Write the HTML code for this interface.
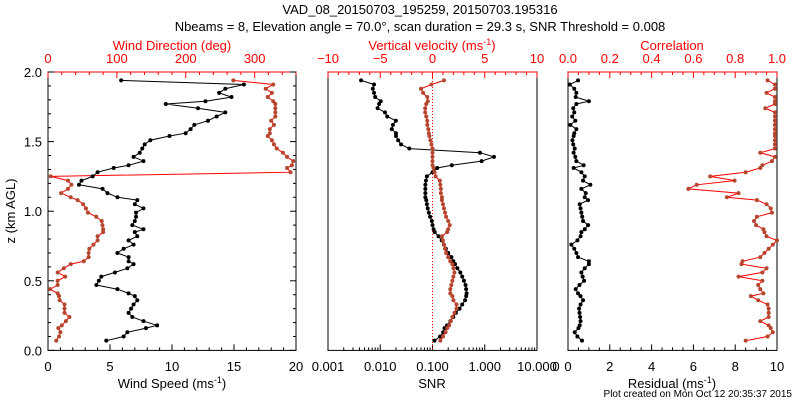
<!DOCTYPE html>
<html><head><meta charset="utf-8"><style>
body{margin:0;background:#fff}
svg{display:block;font-family:"Liberation Sans",sans-serif}
</style></head><body>
<svg id="c" width="800" height="400" viewBox="0 0 800 400"></svg>
<script>
const heights=[0.07,0.10,0.13,0.16,0.18,0.21,0.24,0.27,0.30,0.33,0.36,0.39,0.41,0.44,0.47,0.50,0.53,0.56,0.59,0.62,0.64,0.67,0.70,0.73,0.76,0.79,0.82,0.85,0.87,0.90,0.93,0.96,0.99,1.02,1.05,1.08,1.10,1.13,1.16,1.19,1.22,1.25,1.28,1.31,1.33,1.36,1.39,1.42,1.45,1.48,1.51,1.54,1.56,1.59,1.62,1.65,1.68,1.71,1.74,1.77,1.79,1.82,1.85,1.88,1.91,1.94];
const windSpeed=[4.7,6.1,6.4,7.9,8.8,7.7,6.8,6.5,6.7,6.9,7.2,7.0,6.5,5.6,3.9,4.1,4.3,5.4,6.4,6.9,6.5,6.5,5.6,6.1,6.9,6.5,7.2,7.0,7.7,6.8,7.0,7.1,7.1,7.7,7.0,7.2,5.6,4.8,4.4,2.5,2.7,3.6,4.0,5.3,6.5,7.7,6.9,7.4,7.6,7.8,8.25,9.8,11.1,11.5,11.8,12.9,13.6,14.3,12.1,9.5,12.7,14.8,13.8,14.3,15.8,5.9];
const windDir=[12,16,18,15,20,26,31,24,24,24,17,16,14,3,14,14,25,14,23,33,52,59,59,60,66,72,72,80,80,79,78,70,58,55,51,43,33,19,29,34,29,4,352,347,354,356,347,341,332,328,325,319,322,322,328,324,330,330,330,330,327,319,325,316,327,269];
const snr=[0.109,0.14,0.16,0.17,0.19,0.22,0.25,0.28,0.33,0.37,0.42,0.44,0.45,0.44,0.43,0.40,0.37,0.34,0.30,0.27,0.25,0.23,0.20,0.18,0.165,0.15,0.13,0.11,0.105,0.10,0.097,0.09,0.085,0.081,0.078,0.076,0.073,0.073,0.073,0.073,0.075,0.078,0.10,0.123,0.234,0.87,1.50,0.81,0.036,0.025,0.022,0.020,0.020,0.0166,0.0175,0.0199,0.0136,0.0123,0.0089,0.0095,0.0102,0.008,0.0076,0.0072,0.0076,0.0043];
const vertVel=[0.75,1.0,1.25,1.4,1.6,1.75,1.9,2.1,2.3,2.3,2.0,1.9,1.7,1.7,1.8,1.9,2.0,2.1,2.0,1.9,1.7,1.5,1.3,1.2,1.1,1.0,0.9,1.4,1.5,1.65,1.5,1.3,1.2,1.1,1.0,0.9,0.9,0.8,0.8,0.75,0.7,0.3,0.2,0.1,0.0,0.0,0.0,0.0,0.0,-0.1,-0.2,-0.3,-0.35,-0.4,-0.5,-0.5,-0.6,-0.7,-0.7,-0.6,-0.45,-0.5,-0.9,-1.1,-0.1,1.1];
const residual=[0.67,0.45,0.32,0.5,0.56,0.6,0.58,0.55,0.53,0.6,0.72,0.6,0.48,0.37,0.55,0.77,0.7,0.64,0.8,1.0,1.0,0.48,0.4,0.3,0.16,0.45,0.6,0.64,0.8,0.96,0.72,0.68,0.64,0.6,0.56,0.96,0.8,0.85,0.64,1.07,0.72,0.8,0.64,0.27,0.75,0.4,0.35,0.27,0.32,0.25,0.21,0.27,0.3,0.4,0.11,0.35,0.2,0.3,0.25,0.4,1.0,0.37,0.4,0.3,0.08,0.48];
const correlation=[0.85,0.955,0.98,0.97,0.96,0.92,0.96,0.96,0.96,0.955,0.91,0.875,0.935,0.92,0.91,0.93,0.816,0.93,0.95,0.83,0.835,0.92,0.94,0.96,0.98,1.0,0.95,0.94,0.935,0.9,0.89,0.904,0.976,0.97,0.95,0.904,0.76,0.816,0.576,0.616,0.797,0.68,0.85,0.92,0.93,0.976,0.99,0.92,0.99,0.99,0.99,0.99,0.99,0.99,0.99,0.99,0.99,0.99,0.944,0.99,0.99,0.99,0.95,0.99,0.99,0.955];
const zTicks=["0.0","0.5","1.0","1.5","2.0"];

const svg=document.getElementById('c');
const NS='http://www.w3.org/2000/svg';
function mk(tag,attrs,parent){const e=document.createElementNS(NS,tag);for(const k in attrs)e.setAttribute(k,attrs[k]);(parent||svg).appendChild(e);return e;}
function txt(x,y,s,opt,name){const t=mk('text',Object.assign({x:x,y:y,'font-size':13,'text-anchor':'middle',fill:'#000'},opt||{}));t.innerHTML=s;


return t;}
const Y0=350.4,Y1=72;
const yz=z=>Y0-(z/2)*(Y0-Y1);
const RED='#ff0000',BR='#b5452c';

const panels=[{x0:48,x1:296},{x0:328,x1:537},{x0:568,x1:777}];
function lin(p,a,b){return v=>p.x0+(v-a)/(b-a)*(p.x1-p.x0);}
function logs(p,a,b){return v=>p.x0+(Math.log10(v)-Math.log10(a))/(Math.log10(b)-Math.log10(a))*(p.x1-p.x0);}

function frame(p,name){
  const g=mk('g',{});
  
  
  mk('rect',{x:p.x0,y:Y1,width:p.x1-p.x0,height:Y0-Y1,fill:'none',stroke:'#000','stroke-width':1},g);
  mk('line',{x1:p.x0,y1:Y1,x2:p.x1,y2:Y1,stroke:RED,'stroke-width':1},g);
  return g;
}
function xtick(g,x,top,len){const y=top?Y1:Y0;mk('line',{x1:x,y1:y,x2:x,y2:top?y+len:y-len,stroke:top?RED:'#000','stroke-width':1},g);}
function series(p,xs,fx,lineCol,mCol,name){
  const g=mk('g',{});
  
  
  const pts=xs.map((v,i)=>[fx(v),yz(heights[i])]);
  mk('polyline',{points:pts.map(q=>q[0].toFixed(1)+','+q[1].toFixed(1)).join(' '),fill:'none',stroke:lineCol,'stroke-width':1},g);
  pts.forEach(q=>mk('circle',{cx:q[0],cy:q[1],r:2,fill:mCol},g));
}

// Panel 1
const p1=panels[0];
const g1=frame(p1,'wind-panel');
const fs=lin(p1,0,20),fd=lin(p1,0,360);
for(let v=0;v<=20;v++)xtick(g1,fs(v),false,v%5==0?6:3);
for(let v=0;v<=360;v+=20)xtick(g1,fd(v),true,v%100==0?6:3);
for(let k=0;k<=20;k++){const y=yz(k/10);const L=k%5==0?6:3;
 mk('line',{x1:p1.x0,y1:y,x2:p1.x0+L,y2:y,stroke:'#000'},g1);
 mk('line',{x1:p1.x1,y1:y,x2:p1.x1-L,y2:y,stroke:'#000'},g1);}
zTicks.forEach((s,i)=>txt(42,yz(i*0.5)+5,s,{'text-anchor':'end'},'y-tick-label'));
[0,5,10,15,20].forEach(v=>txt(fs(v),371,String(v),{},'speed-tick-label'));
[0,100,200,300].forEach(v=>txt(fd(v),63,String(v),{fill:RED},'direction-tick-label'));
txt(172,388,'Wind Speed (ms<tspan font-size="9" dy="-5">-1</tspan><tspan dy="5">)</tspan>',{},'x-axis-title-speed');
txt(172,50,'Wind Direction (deg)',{fill:RED},'x-axis-title-direction');
txt(15,211,'z (km AGL)',{transform:'rotate(-90 15 211)'},'y-axis-title');
series(p1,windDir,fd,RED,BR,'wind-direction-series');
series(p1,windSpeed,fs,'#000','#000','wind-speed-series');

// Panel 2
const p2=panels[1];
const g2=frame(p2,'snr-panel');
const fn=logs(p2,0.001,10),fw=lin(p2,-10,10);
for(let e=-3;e<1;e++)for(let m=1;m<10;m++)xtick(g2,fn(m*Math.pow(10,e)),false,m==1?6:3);
xtick(g2,fn(10),false,6);
for(let v=-10;v<=10;v++)xtick(g2,fw(v),true,v%5==0?6:3);
['0.001','0.010','0.100','1.000','10.000'].forEach(s=>txt(fn(parseFloat(s)),371,s,{},'snr-tick-label'));
[-10,-5,0,5,10].forEach(v=>txt(fw(v),63,v<0?'\u2212'+(-v):String(v),{fill:RED},'velocity-tick-label'));
txt(432,388,'SNR',{},'x-axis-title-snr');
txt(432,50,'Vertical velocity (ms<tspan font-size="9" dy="-5">-1</tspan><tspan dy="5">)</tspan>',{fill:RED},'x-axis-title-velocity');
mk('line',{x1:fw(0),y1:Y1,x2:fw(0),y2:Y0,stroke:RED,'stroke-dasharray':'1,2','stroke-width':1},g2);
series(p2,snr,fn,'#000','#000','snr-series');
series(p2,vertVel,fw,RED,BR,'vertical-velocity-series');

// Panel 3
const p3=panels[2];
const g3=frame(p3,'residual-panel');
const fr=lin(p3,0,10),fc=lin(p3,0,1);
for(let v=0;v<=20;v++)xtick(g3,fr(v/2),false,v%4==0?6:3);
for(let v=0;v<=20;v++)xtick(g3,fc(v/20),true,v%4==0?6:3);
[0,2,4,6,8,10].forEach(v=>txt(fr(v),371,String(v),{},'residual-tick-label'));
txt(fr(0)-12,371,'0',{},'residual-tick-label-extra');
['0.0','0.2','0.4','0.6','0.8','1.0'].forEach(s=>txt(fc(parseFloat(s)),63,s,{fill:RED},'correlation-tick-label'));
txt(672,388,'Residual (ms<tspan font-size="9" dy="-5">-1</tspan><tspan dy="5">)</tspan>',{},'x-axis-title-residual');
txt(672,50,'Correlation',{fill:RED},'x-axis-title-correlation');
series(p3,correlation,fc,RED,BR,'correlation-series');
series(p3,residual,fr,'#000','#000','residual-series');

txt(420,14,'VAD_08_20150703_195259, 20150703.195316',{},'title-line-1');
txt(420,31,'Nbeams = 8, Elevation angle = 70.0\u00b0, scan duration = 29.3 s, SNR Threshold = 0.008',{},'title-line-2');
txt(792,397,'Plot created on Mon Oct 12 20:35:37 2015',{'font-size':10,'text-anchor':'end'},'plot-created-note');
</script>
</body></html>
